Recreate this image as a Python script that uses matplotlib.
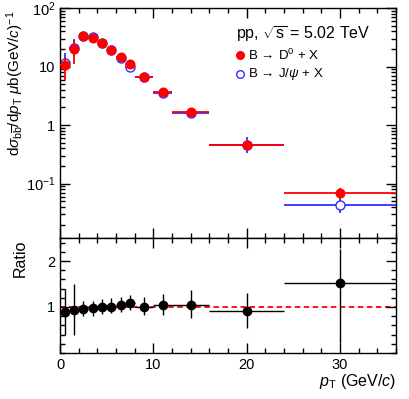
import numpy as np
import matplotlib
matplotlib.use("Agg")
import matplotlib.pyplot as plt
import matplotlib.ticker as mticker

plt.rcParams.update({
    "font.family": "Liberation Sans",
    "mathtext.fontset": "custom",
    "mathtext.rm": "Liberation Sans",
    "mathtext.it": "Liberation Sans:italic",
    "mathtext.bf": "Liberation Sans:bold",
    "font.size": 10,
})

# ===== data =====
bin_lo = [0, 1, 2, 3, 4, 5, 6, 7, 8, 10, 12, 16, 24]
bin_hi = [1, 2, 3, 4, 5, 6, 7, 8, 10, 12, 16, 24, 36]
pt = [0.5, 1.5, 2.5, 3.5, 4.5, 5.5, 6.5, 7.5, 9, 11, 14, 20, 30]

d0_val = [10.5, 20.0, 33.0, 31.0, 25.0, 19.3, 14.5, 11.1, 6.7, 3.7, 1.65, 0.45, 0.068]
d0_lo = [5.8, 11.0, 30.5, 28.8, 23.3, 18.0, 13.5, 10.3, 6.2, 3.4, 1.50, 0.38, 0.054]
d0_hi = [14.0, 28.0, 35.5, 33.2, 26.8, 20.6, 15.5, 11.9, 7.2, 4.0, 1.80, 0.52, 0.084]

jp_val = [11.5, 21.0, 33.5, 31.5, 25.0, 19.0, 14.0, 10.0, 6.6, 3.6, 1.60, 0.45, 0.044]
jp_lo = [9.0, 15.0, 30.5, 29.0, 23.0, 17.5, 12.8, 9.1, 6.0, 3.2, 1.40, 0.33, 0.031]
jp_hi = [16.7, 30.0, 36.5, 34.0, 27.0, 20.5, 15.2, 11.0, 7.2, 4.0, 1.85, 0.63, 0.057]

ratio_val = [0.90, 0.94, 0.96, 0.97, 1.00, 1.01, 1.04, 1.09, 1.01, 1.04, 1.05, 0.92, 1.53]
ratio_lo = [0.39, 0.39, 0.81, 0.80, 0.85, 0.88, 0.90, 0.94, 0.83, 0.82, 0.76, 0.55, 0.21]
ratio_hi = [1.39, 1.50, 1.13, 1.14, 1.18, 1.19, 1.22, 1.26, 1.22, 1.28, 1.36, 1.31, 2.26]

red = "#ff0000"
blue = "#2f2fff"

pt = np.array(pt)
xerr = [pt - np.array(bin_lo), np.array(bin_hi) - pt]


def yerr(val, lo, hi):
    val = np.array(val)
    return [val - np.array(lo), np.array(hi) - val]


# ===== figure =====
fig = plt.figure(figsize=(4.09, 3.99), dpi=100)
ax1 = fig.add_axes([0.1467, 0.4035, 0.8213, 0.5765])
ax2 = fig.add_axes([0.1467, 0.1153, 0.8213, 0.2882])

ax1.errorbar(pt, jp_val, xerr=xerr, yerr=yerr(jp_val, jp_lo, jp_hi), fmt="o",
             color=blue, mfc="white", mec=blue, ms=6.5, mew=1.0, lw=1.3,
             capsize=0, zorder=2)
ax1.errorbar(pt, d0_val, xerr=xerr, yerr=yerr(d0_val, d0_lo, d0_hi), fmt="o",
             color=red, mec=red, ms=6.2, lw=1.3, capsize=0, zorder=3)

ax1.set_yscale("log")
ax1.set_xlim(0, 36)
ax1.set_ylim(0.0118, 100)
ax1.yaxis.set_major_locator(mticker.FixedLocator([0.1, 1, 10, 100]))
ax1.yaxis.set_major_formatter(mticker.FixedFormatter(
    [r"$10^{-1}$", "1", "10", r"$10^{2}$"]))
ax1.yaxis.set_minor_locator(mticker.LogLocator(base=10, subs=np.arange(2, 10)))
ax1.yaxis.set_minor_formatter(mticker.NullFormatter())
ax1.set_ylabel(r"d$\sigma_{\mathrm{b\overline{b}}}$/d$p_{\mathrm{T}}$ $\mu$b(GeV/$c$)$^{-1}$",
               fontsize=11, loc="top")
ax1.yaxis.set_label_coords(-0.10, 0.99)

ax1.text(0.525, 0.885, r"pp, $\sqrt{\mathrm{s}}$ = 5.02 TeV", transform=ax1.transAxes,
         fontsize=11.5, ha="left", va="center")
ax1.plot([0.537], [0.795], "o", color=red, ms=5.5, transform=ax1.transAxes)
ax1.text(0.56, 0.795, r"B $\!\rightarrow\!$ D$^{0}$ + X", transform=ax1.transAxes,
         fontsize=9.5, ha="left", va="center")
ax1.plot([0.537], [0.712], "o", mfc="white", mec=blue, ms=5.5, transform=ax1.transAxes)
ax1.text(0.56, 0.712, r"B $\!\rightarrow\!$ J/$\psi$ + X", transform=ax1.transAxes,
         fontsize=9.5, ha="left", va="center")

# ratio panel
ax2.axhline(1.0, color=red, ls=(0, (3, 2)), lw=1.3, zorder=1)
ax2.errorbar(pt, ratio_val, xerr=xerr, yerr=yerr(ratio_val, ratio_lo, ratio_hi),
             fmt="o", color="black", ms=6, lw=1.0, capsize=0, zorder=3)
ax2.set_xlim(0, 36)
ax2.set_ylim(0, 2.5)
ax2.yaxis.set_major_locator(mticker.FixedLocator([1, 2]))
ax2.yaxis.set_minor_locator(mticker.MultipleLocator(0.2))
ax2.set_ylabel("Ratio", fontsize=11.5, loc="top")
ax2.yaxis.set_label_coords(-0.095, 0.99)
ax2.set_xlabel(r"$p_{\mathrm{T}}$ (GeV/$c$)", fontsize=11.5, loc="right", labelpad=0)

for ax in (ax1, ax2):
    ax.xaxis.set_major_locator(mticker.MultipleLocator(10))
    ax.xaxis.set_minor_locator(mticker.MultipleLocator(2))
    ax.tick_params(which="both", direction="in", top=True, right=True,
                   labelsize=10.5, width=1.0)
    ax.tick_params(which="major", length=7)
    ax.tick_params(which="minor", length=3.5)
    for sp in ax.spines.values():
        sp.set_linewidth(1.0)
ax1.tick_params(axis="x", labelbottom=False)

fig.savefig("out.png", dpi=100)
